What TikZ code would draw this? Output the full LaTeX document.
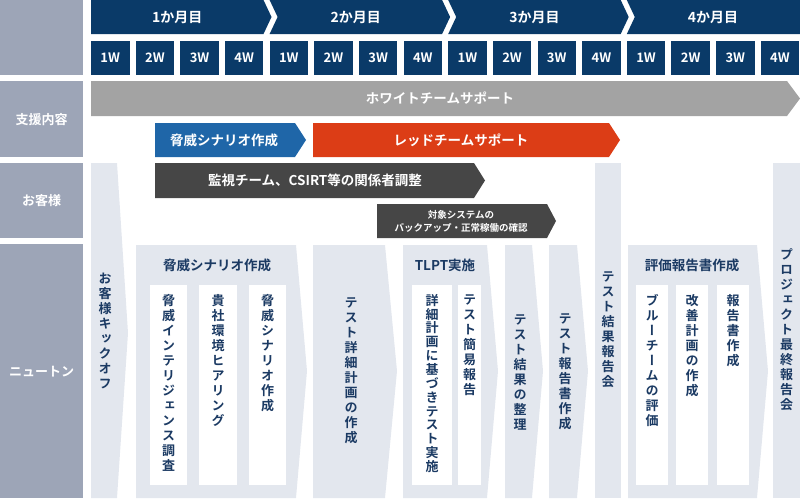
\documentclass[tikz,border=0pt]{standalone}
\usepackage{fontspec}
\setmainfont{Noto Sans CJK JP}[BoldFont={* Bold}]
\newfontfamily\tatefont{Noto Sans CJK JP}[BoldFont={* Bold},RawFeature=+vert]
\definecolor{leftgray}{HTML}{9DA5B7}
\definecolor{navy}{HTML}{0A3A68}
\definecolor{wbar}{HTML}{A3A3A3}
\definecolor{bbar}{HTML}{1F66A8}
\definecolor{rbar}{HTML}{DC3D16}
\definecolor{dbar}{HTML}{464646}
\definecolor{panel}{HTML}{E3E7EE}
\definecolor{tnavy}{HTML}{1B3A63}
\makeatletter
% vertical text, one character per line
\newcommand{\tate}[2][15pt]{\vbox{\tatefont\bfseries\fontsize{13pt}{#1}\selectfont
  \lineskiplimit=-100pt\@tfor\tch:=#2\do{\hbox to 13pt{\hss\tch\hss}}}}
\makeatother
\begin{document}
\begin{tikzpicture}[x=1pt,y=-1pt,
  lbox/.style={fill=leftgray,text=white,minimum width=83pt,inner sep=0,
    font=\bfseries\fontsize{13}{15}\selectfont},
  wkbox/.style={fill=navy,text=white,minimum width=38.5pt,minimum height=34pt,
    inner sep=0,font=\bfseries\fontsize{13}{15}\selectfont},
  bartxt/.style={text=white,inner sep=0,font=\bfseries\fontsize{13.5}{16}\selectfont},
  headtxt/.style={text=tnavy,inner sep=0,font=\bfseries\fontsize{13.5}{16}\selectfont},
  tt/.style={text=tnavy,inner sep=0}]
\useasboundingbox (0,0) rectangle (800,498);
% left column
\node[lbox,minimum height=75pt,anchor=north west] (head) at (0,0) {};
\node[lbox,minimum height=76pt,anchor=north west] (sien) at (0,81) {支援内容};
\node[lbox,minimum height=75pt,anchor=north west] (kyaku) at (0,163) {お客様};
\node[lbox,minimum height=254pt,anchor=north west] (newton) at (0,244) {ニュートン};
% months
\foreach \m/\lab in {0/1か月目,1/2か月目,2/3か月目,3/4か月目}{
  \pgfmathsetmacro\L{91+\m*178.6}
  \pgfmathsetmacro\R{\m<3 ? \L+172.5 : 800}
  \pgfmathsetmacro\nt{\m>0 ? 8 : 0}
  \pgfmathsetmacro\tp{\m<3 ? 8 : 0}
  \fill[navy] (\L,0) -- (\R,0) -- (\R+\tp,17) -- (\R,34) -- (\L,34) -- (\L+\nt,17) -- cycle;
  \node[bartxt,font=\bfseries\fontsize{14}{16}\selectfont] (m\m) at (\L+86.25,17) {\lab};
}
% weeks
\foreach \k in {0,...,15}{
  \pgfmathsetmacro\wx{91+\k*44.65}
  \pgfmathtruncatemacro\wn{mod(\k,4)+1}
  \node[wkbox] (w\k) at (\wx+19.25,58) {\wn W};
}
% support row
\fill[wbar] (91,81) -- (787,81) -- (800,98.5) -- (787,116) -- (91,116) -- cycle;
\node[bartxt] (white) at (440,98.5) {ホワイトチームサポート};
\fill[bbar] (155,123) -- (295,123) -- (306,140) -- (295,157) -- (155,157) -- cycle;
\node[bartxt] (threat) at (224,140) {脅威シナリオ作成};
\fill[rbar] (313,123) -- (609,123) -- (620,140) -- (609,157) -- (313,157) -- cycle;
\node[bartxt] (red) at (461,140) {レッドチームサポート};
% customer row
\fill[dbar] (155,163) -- (474,163) -- (485,180.5) -- (474,198) -- (155,198) -- cycle;
\node[bartxt] (kanshi) at (315,180.5) {監視チーム、CSIRT等の関係者調整};
\fill[dbar] (377,204) -- (547,204) -- (556,221) -- (547,238) -- (377,238) -- cycle;
\node[bartxt,align=center,font=\bfseries\fontsize{9.5}{13}\selectfont] (backup) at (461,221)
  {対象システムの\\バックアップ・正常稼働の確認};
% newton row
\fill[panel] (91,163) -- (117,163) -- (128,333) -- (117,498) -- (91,498) -- cycle;
\node[tt] (kickoff) at (105,331) {\tate{お客様キックオフ}};
\fill[panel] (136,245) -- (296,245) -- (307,371) -- (296,498) -- (136,498) -- cycle;
\node[headtxt] (g1) at (217,265) {脅威シナリオ作成};
\fill[panel] (313,245) -- (385,245) -- (397,371) -- (385,498) -- (313,498) -- cycle;
\node[tt] (plan) at (351,371) {\tate{テスト詳細計画の作成}};
\fill[panel] (403,245) -- (487,245) -- (498,371) -- (487,498) -- (403,498) -- cycle;
\node[headtxt] (g2) at (445,265) {TLPT実施};
\fill[panel] (505,245) -- (532,245) -- (543,371) -- (532,498) -- (505,498) -- cycle;
\node[tt] (seiri) at (520,372) {\tate{テスト結果の整理}};
\fill[panel] (549,245) -- (577,245) -- (588,371) -- (577,498) -- (549,498) -- cycle;
\node[tt] (report) at (565,372) {\tate{テスト報告書作成}};
\fill[panel] (595,163) rectangle (621,498);
\node[tt] (meeting) at (608,330) {\tate{テスト結果報告会}};
\fill[panel] (628,245) -- (757,245) -- (768,371) -- (757,498) -- (628,498) -- cycle;
\node[headtxt] (g3) at (692,265) {評価報告書作成};
\fill[panel] (773,163) rectangle (800,498);
\node[tt] (final) at (786.5,330) {\tate{プロジェクト最終報告会}};
% white boxes inside groups
\foreach \a/\b in {150/187,199/237,249/286,412/452,458/481,636/668,676/708,717/749}
  \fill[white] (\a,285) rectangle (\b,485);
\node[tt,anchor=north] (s1) at (168.5,294) {\tate{脅威インテリジェンス調査}};
\node[tt,anchor=north] (s2) at (218,294) {\tate{貴社環境ヒアリング}};
\node[tt,anchor=north] (s3) at (267.5,294) {\tate{脅威シナリオ作成}};
\node[tt,anchor=north] (t1) at (432,294) {\tate[13.85pt]{詳細計画に基づきテスト実施}};
\node[tt,anchor=north] (t2) at (469.5,294) {\tate{テスト簡易報告}};
\node[tt,anchor=north] (e1) at (652,294) {\tate{ブルーチームの評価}};
\node[tt,anchor=north] (e2) at (692,294) {\tate{改善計画の作成}};
\node[tt,anchor=north] (e3) at (733,294) {\tate{報告書作成}};
\end{tikzpicture}
\end{document}
